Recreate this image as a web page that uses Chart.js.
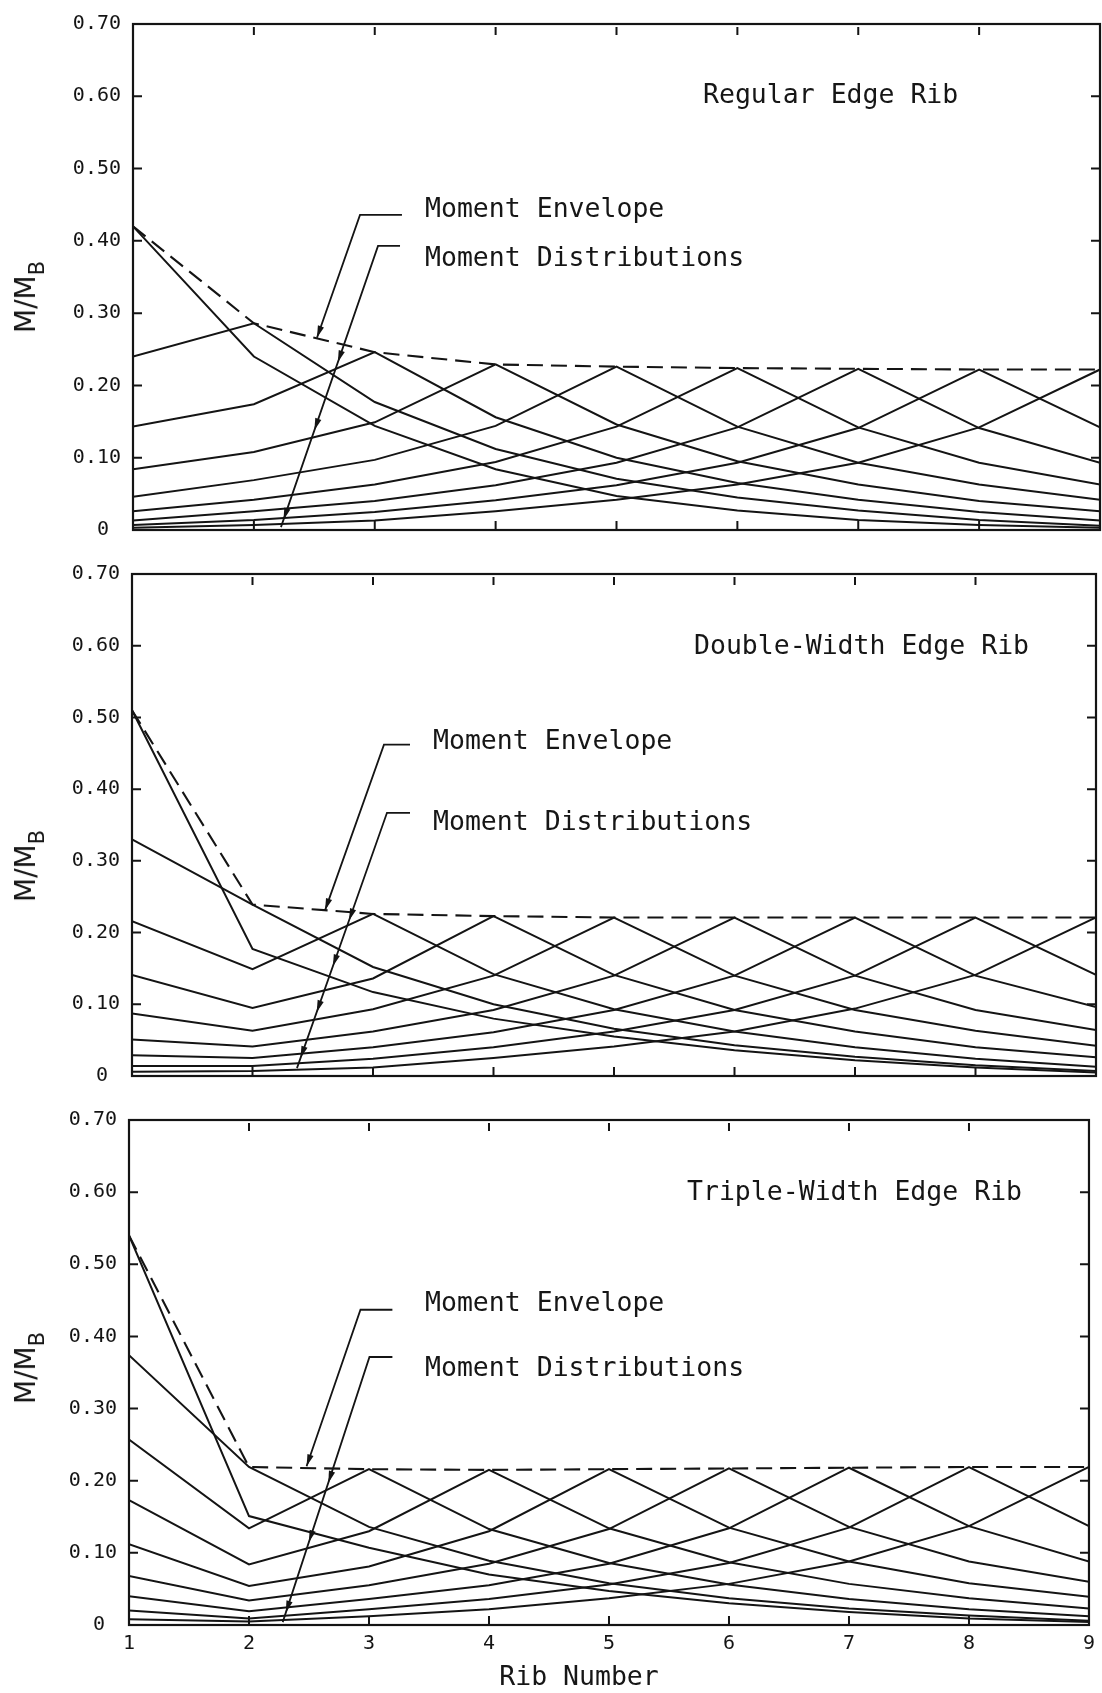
<!DOCTYPE html>
<html>
<head>
<meta charset="utf-8">
<script src="https://cdn.jsdelivr.net/npm/chart.js@4.4.0/dist/chart.umd.min.js"></script>
<style>
html,body{margin:0;padding:0;background:#fff;}
#page{position:relative;width:1102px;height:1693px;overflow:hidden;background:#fff;}
canvas{position:absolute;left:0;}
.t{position:absolute;font-family:"DejaVu Sans Mono",monospace;font-size:26.5px;color:#161616;white-space:nowrap;line-height:1;transform:translateY(-50%);}
.yl{position:absolute;font-family:"DejaVu Sans",sans-serif;font-size:28px;line-height:28px;color:#161616;white-space:nowrap;transform:translate(-50%,-50%) rotate(-90deg);}
.yl .sb{font-size:21px;position:relative;top:9px;}
.xt{position:absolute;font-family:"DejaVu Sans Mono",monospace;font-size:26.5px;color:#161616;white-space:nowrap;line-height:1;transform:translate(-50%,-50%);}
</style>
</head>
<body>
<div id="page">
  <canvas id="c1" width="1102" height="560" style="top:0px;width:1102px;height:560px"></canvas>
  <canvas id="c2" width="1102" height="550" style="top:550px;width:1102px;height:550px"></canvas>
  <canvas id="c3" width="1102" height="597" style="top:1096px;width:1102px;height:597px"></canvas>

  <div class="t" style="left:703px;top:94px">Regular Edge Rib</div>
  <div class="t" style="left:425px;top:208px">Moment Envelope</div>
  <div class="t" style="left:425px;top:257px">Moment Distributions</div>
  <div class="yl" style="left:27px;top:297px">M/M<span class="sb">B</span></div>

  <div class="t" style="left:694px;top:645px">Double-Width Edge Rib</div>
  <div class="t" style="left:433px;top:740px">Moment Envelope</div>
  <div class="t" style="left:433px;top:821px">Moment Distributions</div>
  <div class="yl" style="left:27px;top:866px">M/M<span class="sb">B</span></div>

  <div class="t" style="left:687px;top:1191px">Triple-Width Edge Rib</div>
  <div class="t" style="left:425px;top:1302px">Moment Envelope</div>
  <div class="t" style="left:425px;top:1367px">Moment Distributions</div>
  <div class="yl" style="left:27px;top:1368px">M/M<span class="sb">B</span></div>

  <div class="xt" style="left:579px;top:1676px">Rib Number</div>
</div>
<script>
// ---------------- data ----------------
const ribs = [1, 2, 3, 4, 5, 6, 7, 8, 9];
const xTickLabels = ['1', '2', '3', '4', '5', '6', '7', '8', '9'];
const yTickLabels = ['0 ', '0.10', '0.20', '0.30', '0.40', '0.50', '0.60', '0.70'];

// Regular Edge Rib: moment at ribs 1..9 for a load at rib 1..9
const regularRows = [
  [0.420, 0.240, 0.144, 0.084, 0.047, 0.027, 0.014, 0.007, 0.003],
  [0.240, 0.286, 0.177, 0.112, 0.071, 0.045, 0.027, 0.014, 0.006],
  [0.143, 0.174, 0.246, 0.156, 0.100, 0.065, 0.042, 0.025, 0.013],
  [0.084, 0.108, 0.149, 0.229, 0.146, 0.095, 0.063, 0.040, 0.026],
  [0.046, 0.069, 0.097, 0.144, 0.226, 0.143, 0.093, 0.063, 0.042],
  [0.026, 0.042, 0.063, 0.094, 0.143, 0.224, 0.142, 0.093, 0.063],
  [0.013, 0.026, 0.040, 0.062, 0.093, 0.142, 0.223, 0.141, 0.093],
  [0.007, 0.014, 0.025, 0.041, 0.062, 0.093, 0.141, 0.222, 0.142],
  [0.003, 0.007, 0.013, 0.026, 0.042, 0.063, 0.093, 0.142, 0.222]
];
const regularEnvelope = [0.420, 0.286, 0.246, 0.229, 0.226, 0.224, 0.223, 0.222, 0.222];

// Double-Width Edge Rib
const doubleRows = [
  [0.510, 0.177, 0.117, 0.080, 0.055, 0.036, 0.022, 0.012, 0.005],
  [0.330, 0.239, 0.152, 0.100, 0.066, 0.043, 0.027, 0.015, 0.007],
  [0.216, 0.149, 0.226, 0.142, 0.093, 0.062, 0.040, 0.024, 0.013],
  [0.141, 0.095, 0.136, 0.223, 0.141, 0.092, 0.062, 0.040, 0.026],
  [0.087, 0.063, 0.093, 0.140, 0.221, 0.140, 0.092, 0.063, 0.042],
  [0.051, 0.041, 0.062, 0.092, 0.140, 0.221, 0.140, 0.092, 0.064],
  [0.029, 0.025, 0.040, 0.061, 0.092, 0.140, 0.221, 0.140, 0.096],
  [0.014, 0.014, 0.024, 0.040, 0.062, 0.092, 0.140, 0.221, 0.141],
  [0.006, 0.007, 0.012, 0.025, 0.041, 0.062, 0.094, 0.141, 0.221]
];
const doubleEnvelope = [0.510, 0.239, 0.226, 0.223, 0.221, 0.221, 0.221, 0.221, 0.221];

// Triple-Width Edge Rib
const tripleRows = [
  [0.540, 0.151, 0.107, 0.070, 0.047, 0.030, 0.018, 0.009, 0.004],
  [0.374, 0.219, 0.136, 0.089, 0.058, 0.037, 0.023, 0.013, 0.006],
  [0.257, 0.134, 0.216, 0.133, 0.086, 0.056, 0.036, 0.022, 0.012],
  [0.173, 0.084, 0.130, 0.215, 0.134, 0.087, 0.057, 0.037, 0.023],
  [0.112, 0.054, 0.081, 0.130, 0.216, 0.135, 0.088, 0.058, 0.039],
  [0.068, 0.034, 0.055, 0.085, 0.133, 0.217, 0.136, 0.088, 0.060],
  [0.040, 0.019, 0.036, 0.055, 0.085, 0.134, 0.218, 0.137, 0.088],
  [0.020, 0.009, 0.022, 0.036, 0.056, 0.086, 0.135, 0.219, 0.137],
  [0.008, 0.005, 0.012, 0.022, 0.037, 0.057, 0.088, 0.137, 0.219]
];
const tripleEnvelope = [0.540, 0.219, 0.216, 0.215, 0.216, 0.217, 0.218, 0.219, 0.219];

// leader lines of the annotations, in (rib, M/MB) coordinates
const regularLeaders = [
  { path: [[3.225, 0.436], [2.878, 0.436], [2.522, 0.266]], arrows: [0.266] },
  { path: [[3.209, 0.393], [3.027, 0.393], [2.224, 0.004]], arrows: [0.232, 0.138, 0.014] }
];
const doubleLeaders = [
  { path: [[3.307, 0.462], [3.091, 0.462], [2.602, 0.231]], arrows: [0.231] },
  { path: [[3.307, 0.367], [3.116, 0.367], [2.369, 0.011]], arrows: [0.217, 0.153, 0.089, 0.025] }
];
const tripleLeaders = [
  { path: [[3.195, 0.437], [2.929, 0.437], [2.480, 0.220]], arrows: [0.220] },
  { path: [[3.195, 0.3715], [3.004, 0.3715], [2.281, 0.004]], arrows: [0.197, 0.115, 0.017] }
];

// ---------------- drawing ----------------
const INK = '#141414';
const TICK_FONT = { family: 'DejaVu Sans Mono', size: 20 };

function buildDatasets(rows, env) {
  const ds = rows.map((row, i) => ({
    label: 'Load at rib ' + ribs[i],
    data: ribs.map((r, k) => ({ x: r, y: row[k] })),
    borderColor: INK, borderWidth: 2, pointRadius: 0, tension: 0, fill: false
  }));
  ds.push({
    label: 'Moment Envelope',
    data: ribs.map((r, k) => ({ x: r, y: env[k] })),
    borderColor: INK, borderWidth: 2.1, borderDash: [16, 8], pointRadius: 0, tension: 0, fill: false
  });
  return ds;
}

const framePlugin = {
  id: 'frame',
  afterDatasetsDraw(chart, args, opts) {
    const { ctx, chartArea: a } = chart;
    const x = chart.scales.x, y = chart.scales.y;
    ctx.save();
    ctx.setLineDash([]);
    ctx.strokeStyle = INK;
    ctx.fillStyle = INK;
    ctx.lineWidth = 2.2;
    ctx.strokeRect(a.left, a.top, a.right - a.left, a.bottom - a.top);
    ctx.lineWidth = 2;
    ctx.beginPath();
    y.ticks.forEach(t => {
      if (t.value <= 0 || t.value >= 0.7 - 1e-9) return;
      const py = y.getPixelForValue(t.value);
      ctx.moveTo(a.left, py); ctx.lineTo(a.left + 9, py);
      ctx.moveTo(a.right, py); ctx.lineTo(a.right - 9, py);
    });
    x.ticks.forEach(t => {
      if (t.value <= 1 || t.value >= 9) return;
      const px = x.getPixelForValue(t.value);
      ctx.moveTo(px, a.top + 3); ctx.lineTo(px, a.top + 11);
      ctx.moveTo(px, a.bottom); ctx.lineTo(px, a.bottom - 9);
    });
    ctx.stroke();

    ctx.lineWidth = 1.8;
    (opts.leaders || []).forEach(L => {
      const pts = L.path.map(([r, v]) => [x.getPixelForValue(r), y.getPixelForValue(v)]);
      ctx.beginPath();
      ctx.moveTo(pts[0][0], pts[0][1]);
      for (let i = 1; i < pts.length; i++) ctx.lineTo(pts[i][0], pts[i][1]);
      ctx.stroke();
      const p1 = pts[pts.length - 2], p2 = pts[pts.length - 1];
      const dx = p2[0] - p1[0], dy = p2[1] - p1[1];
      const len = Math.hypot(dx, dy), ux = dx / len, uy = dy / len;
      L.arrows.forEach(v => {
        const py = y.getPixelForValue(v);
        const t = (py - p1[1]) / dy;
        const px = p1[0] + t * dx;
        const bx = px - ux * 12, by = py - uy * 12;
        ctx.beginPath();
        ctx.moveTo(px, py);
        ctx.lineTo(bx - uy * 3.2, by + ux * 3.2);
        ctx.lineTo(bx + uy * 3.2, by - ux * 3.2);
        ctx.closePath();
        ctx.fill();
      });
    });
    ctx.restore();
  }
};

const panels = [
  { id: 'c1', rows: regularRows, env: regularEnvelope, leaders: regularLeaders, padTop: 24, xH: 30, yW: 133, padR: 2, showX: false },
  { id: 'c2', rows: doubleRows, env: doubleEnvelope, leaders: doubleLeaders, padTop: 24, xH: 23, yW: 132, padR: 6, showX: false },
  { id: 'c3', rows: tripleRows, env: tripleEnvelope, leaders: tripleLeaders, padTop: 24, xH: 68, yW: 129, padR: 11, showX: true }
];

panels.forEach(p => {
  new Chart(document.getElementById(p.id), {
    type: 'line',
    data: { datasets: buildDatasets(p.rows, p.env) },
    options: {
      responsive: false,
      animation: false,
      devicePixelRatio: 1,
      events: [],
      layout: { padding: { top: p.padTop, right: p.padR, bottom: 0, left: 0 }, autoPadding: false },
      plugins: {
        legend: { display: false },
        tooltip: { enabled: false },
        title: { display: false },
        frame: { leaders: p.leaders }
      },
      scales: {
        x: {
          type: 'linear', min: 1, max: 9, position: 'bottom',
          grid: { display: false, drawTicks: false },
          border: { display: false },
          ticks: {
            display: p.showX, stepSize: 1, padding: 7, autoSkip: false, maxRotation: 0,
            font: TICK_FONT, color: INK,
            callback: (v, i) => xTickLabels[i]
          },
          afterFit: s => { s.height = p.xH; }
        },
        y: {
          type: 'linear', min: 0, max: 0.7, position: 'left',
          grid: { display: false, drawTicks: false },
          border: { display: false },
          ticks: {
            stepSize: 0.1, padding: 12, font: TICK_FONT, color: INK,
            callback: (v, i) => yTickLabels[i]
          },
          afterFit: s => { s.width = p.yW; }
        }
      }
    },
    plugins: [framePlugin]
  });
});
</script>
</body>
</html>
